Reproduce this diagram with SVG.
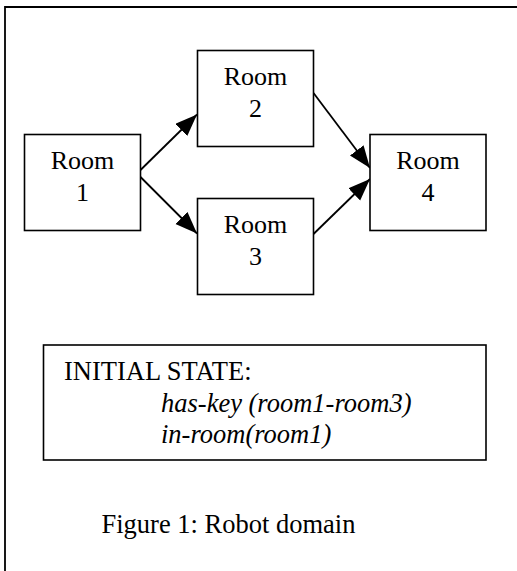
<svg xmlns="http://www.w3.org/2000/svg" width="517" height="571" viewBox="0 0 517 571">
  <style>
    .box { fill: #fff; stroke: #000; stroke-width: 1.6; }
    .frame { fill: none; stroke: #000; stroke-width: 1.8; }
    .edge { stroke: #000; stroke-width: 1.8; fill: none; marker-end: url(#arrow); }
    text { font-family: "Liberation Serif", "Times New Roman", serif; fill: #000; }
    .lbl { font-size: 26px; text-anchor: middle; }
    .state { font-size: 26.5px; }
    .it { font-style: italic; }
  </style>
  <defs>
    <marker id="arrow" markerUnits="userSpaceOnUse" markerWidth="24" markerHeight="18" refX="22" refY="8.5" orient="auto">
      <path d="M0,0 L22,8.5 L0,17 z" fill="#000"/>
    </marker>
  </defs>

  <!-- outer frame: left and top edges only -->
  <path class="frame" d="M5,571 V7 H517"/>

  <!-- connectors -->
  <g id="edges">
    <line class="edge" x1="140.5" y1="170" x2="197" y2="114.5"/>
    <line class="edge" x1="140.5" y1="177" x2="197" y2="233.5"/>
    <line class="edge" x1="313.5" y1="93" x2="370" y2="168"/>
    <line class="edge" x1="313.5" y1="234" x2="370" y2="179"/>
  </g>

  <g id="room1">
    <rect class="box" x="24.5" y="134.5" width="116" height="96"/>
    <text class="lbl" x="82.5" y="168.5">Room</text>
    <text class="lbl" x="82.5" y="201">1</text>
  </g>

  <g id="room2">
    <rect class="box" x="197.5" y="50.5" width="116" height="96"/>
    <text class="lbl" x="255.5" y="85">Room</text>
    <text class="lbl" x="255.5" y="116.5">2</text>
  </g>

  <g id="room3">
    <rect class="box" x="197.5" y="198.5" width="116" height="96"/>
    <text class="lbl" x="255.5" y="233">Room</text>
    <text class="lbl" x="255.5" y="264.5">3</text>
  </g>

  <g id="room4">
    <rect class="box" x="370" y="134.5" width="116" height="96"/>
    <text class="lbl" x="428" y="168.5">Room</text>
    <text class="lbl" x="428" y="201">4</text>
  </g>

  <g id="initial-state">
    <rect class="box" x="43.5" y="345" width="442.5" height="115"/>
    <text class="state" x="64" y="380">INITIAL STATE:</text>
    <text class="state it" x="161" y="411.5">has-key (room1-room3)</text>
    <text class="state it" x="161" y="442.5">in-room(room1)</text>
  </g>

  <g id="caption">
    <text class="state" x="101.5" y="532.5">Figure 1: Robot domain</text>
  </g>
</svg>
